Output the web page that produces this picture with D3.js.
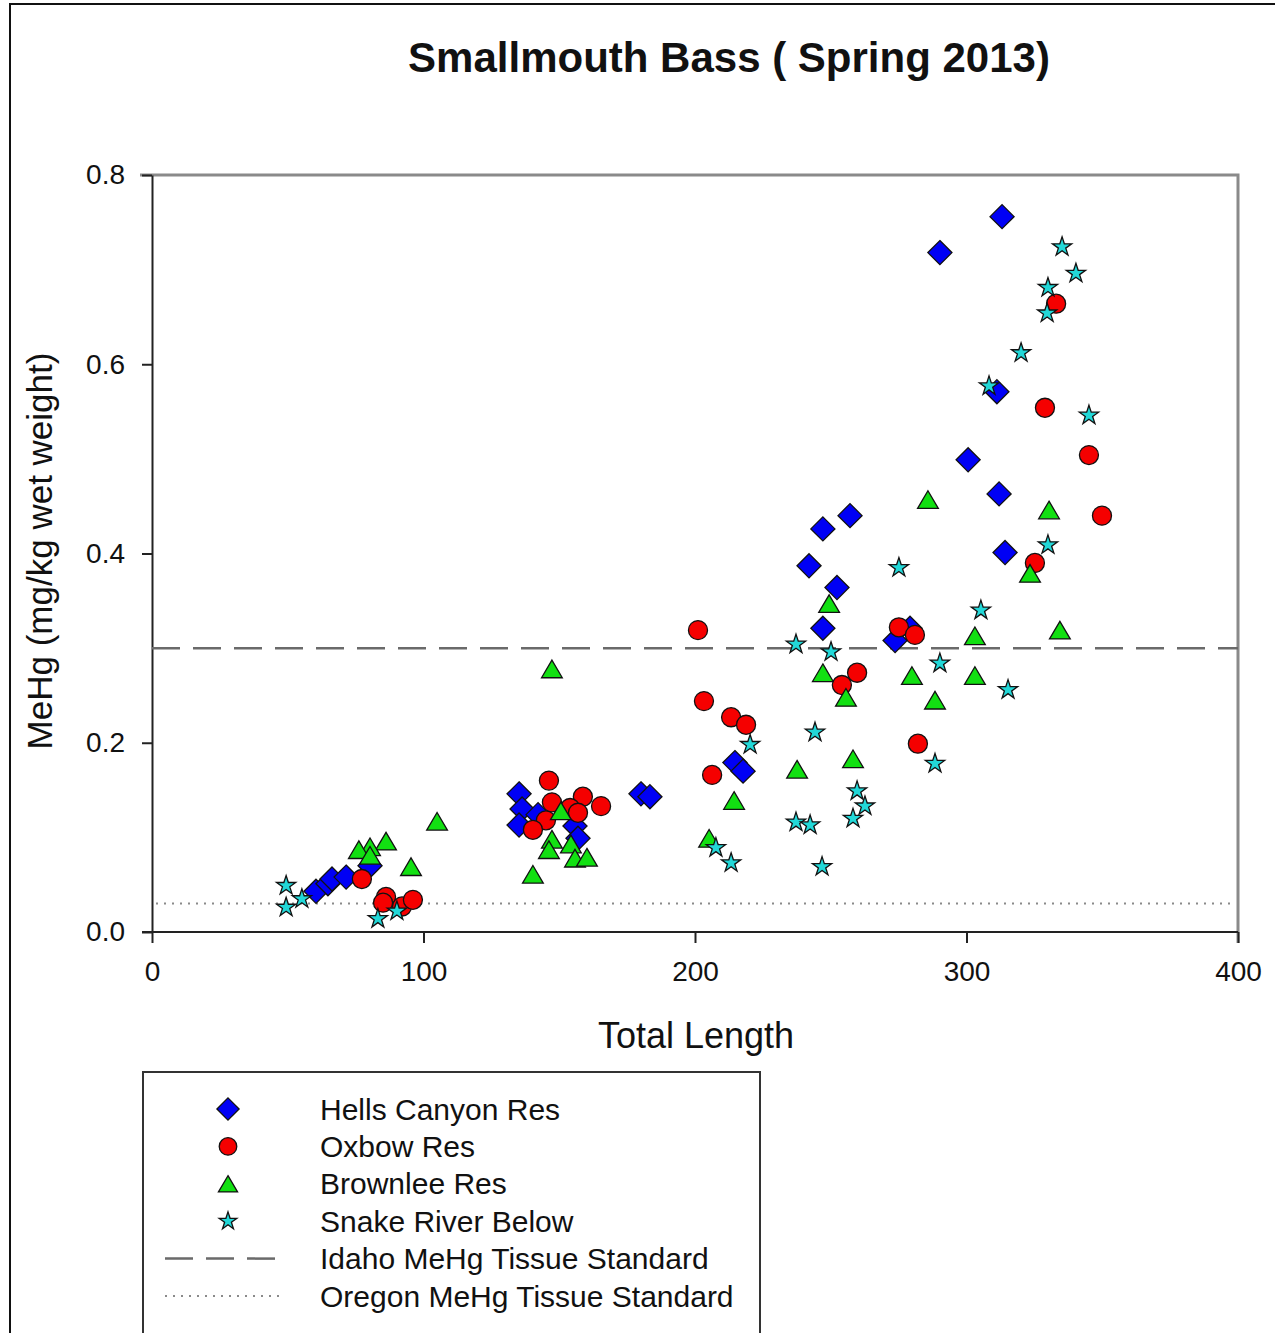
<!DOCTYPE html>
<html>
<head>
<meta charset="utf-8">
<script src="https://cdn.jsdelivr.net/npm/d3@7"></script>
<style>
  html, body { margin: 0; padding: 0; background: #fff; }
  svg { display: block; }
  text { font-family: "Liberation Sans", Arial, sans-serif; fill: #111; }
</style>
</head>
<body>
<svg id="chart" width="1275" height="1333"></svg>
<script>
// Total length (mm) and MeHg (mg/kg wet weight) per fish, by site
const hellsCanyon = [
  [313.1, 0.756], [290.2, 0.718], [311.2, 0.571], [300.6, 0.499], [312.0, 0.463],
  [314.2, 0.401], [257.1, 0.440], [247.1, 0.426], [242.0, 0.387], [252.3, 0.364],
  [247.1, 0.321], [273.7, 0.308], [279.2, 0.321], [214.7, 0.179], [217.7, 0.170],
  [180.1, 0.146], [183.4, 0.143], [135.2, 0.146], [136.3, 0.130], [135.2, 0.113],
  [142.2, 0.124], [155.8, 0.112], [156.9, 0.099], [60.4, 0.043], [64.8, 0.051],
  [66.3, 0.056], [71.5, 0.058], [80.3, 0.070]
];
const oxbow = [
  [333.0, 0.664], [328.9, 0.554], [345.1, 0.504], [349.9, 0.440], [325.2, 0.390],
  [275.1, 0.322], [281.0, 0.314], [282.1, 0.199], [259.7, 0.274], [254.1, 0.261],
  [201.1, 0.319], [203.3, 0.244], [213.3, 0.227], [218.8, 0.219], [206.3, 0.166],
  [146.2, 0.160], [147.3, 0.137], [158.7, 0.143], [165.4, 0.133], [154.0, 0.131],
  [156.9, 0.126], [145.1, 0.118], [140.3, 0.108], [77.3, 0.056], [86.2, 0.037],
  [85.1, 0.031], [92.1, 0.027], [96.1, 0.034]
];
const brownlee = [
  [285.8, 0.457], [330.4, 0.446], [323.4, 0.379], [249.4, 0.347], [303.1, 0.313],
  [334.4, 0.319], [247.1, 0.274], [279.9, 0.271], [303.1, 0.271], [255.6, 0.248],
  [288.4, 0.245], [237.6, 0.172], [258.2, 0.183], [214.4, 0.139], [205.2, 0.099],
  [147.3, 0.278], [150.6, 0.128], [147.3, 0.098], [146.2, 0.087], [154.3, 0.093],
  [155.8, 0.078], [160.2, 0.079], [140.3, 0.061], [105.0, 0.117], [86.2, 0.096],
  [80.3, 0.090], [76.2, 0.087], [80.3, 0.081], [95.4, 0.069]
];
const snakeBelow = [
  [335.2, 0.724], [340.3, 0.696], [330.0, 0.681], [329.7, 0.654], [320.1, 0.612],
  [308.3, 0.577], [345.1, 0.546], [330.0, 0.409], [275.1, 0.385], [305.3, 0.340],
  [237.2, 0.304], [250.1, 0.296], [290.2, 0.284], [315.3, 0.256], [244.2, 0.211],
  [220.3, 0.198], [288.4, 0.178], [259.7, 0.149], [262.6, 0.133], [258.2, 0.120],
  [237.2, 0.116], [242.4, 0.113], [246.8, 0.069], [207.7, 0.089], [213.3, 0.073],
  [49.4, 0.049], [49.4, 0.026], [55.2, 0.035], [83.2, 0.014], [90.2, 0.022]
];

// Tissue standards (mg/kg)
const idahoStandard = 0.3;
const oregonStandard = 0.03;

const xTicks = [0, 100, 200, 300, 400];
const yTicks = [0.0, 0.2, 0.4, 0.6, 0.8];

const seriesNames = ["Hells Canyon Res", "Oxbow Res", "Brownlee Res", "Snake River Below"];
const lineNames = ["Idaho MeHg Tissue Standard", "Oregon MeHg Tissue Standard"];

const svg = d3.select("#chart");

const plot = { left: 152, right: 1238, top: 175, bottom: 932 };
const x = d3.scaleLinear().domain([0, 400]).range([plot.left, plot.right]);
const y = d3.scaleLinear().domain([0, 0.8]).range([plot.bottom, plot.top]);

// outer frame
svg.append("line").attr("x1", 9).attr("x2", 1275).attr("y1", 4).attr("y2", 4)
  .attr("stroke", "#111").attr("stroke-width", 2);
svg.append("line").attr("x1", 10).attr("x2", 10).attr("y1", 4).attr("y2", 1333)
  .attr("stroke", "#111").attr("stroke-width", 2);

// title
svg.append("text").attr("x", 729).attr("y", 72).attr("text-anchor", "middle")
  .style("font-size", "42px").style("font-weight", "bold")
  .text("Smallmouth Bass ( Spring 2013)");

// top and right plot edges
svg.append("path")
  .attr("d", `M${plot.left - 12},${plot.top} H${plot.right} V${plot.bottom + 11}`)
  .attr("fill", "none").attr("stroke", "#8a8a8a").attr("stroke-width", 3);

// axes
const xAxis = d3.axisBottom(x).tickValues(xTicks).tickFormat(d3.format("d"))
  .tickSize(11).tickSizeOuter(0).tickPadding(18);
const yAxis = d3.axisLeft(y).tickValues(yTicks).tickFormat(d3.format(".1f"))
  .tickSize(10).tickSizeOuter(0).tickPadding(17);

const gx = svg.append("g").attr("transform", `translate(0,${plot.bottom})`).call(xAxis);
const gy = svg.append("g").attr("transform", `translate(${plot.left},0)`).call(yAxis);
[gx, gy].forEach(g => {
  g.select(".domain").attr("stroke", "#222").attr("stroke-width", 2);
  g.selectAll(".tick line").attr("stroke", "#222").attr("stroke-width", 2);
  g.selectAll(".tick text").style("font-size", "28px")
    .style("font-family", "'Liberation Sans', Arial, sans-serif").attr("fill", "#111");
});
gx.select(".domain").attr("d", `M${plot.left - 10},0H${plot.right}`);

// axis titles
svg.append("text").attr("x", 696).attr("y", 1048).attr("text-anchor", "middle")
  .style("font-size", "36px").text("Total Length");
svg.append("text").attr("transform", "translate(52,551) rotate(-90)")
  .attr("text-anchor", "middle").style("font-size", "35px")
  .text("MeHg (mg/kg wet weight)");

// reference lines
svg.append("line").attr("x1", plot.left).attr("x2", plot.right)
  .attr("y1", y(idahoStandard)).attr("y2", y(idahoStandard))
  .attr("stroke", "#6a6a6a").attr("stroke-width", 2.5).attr("stroke-dasharray", "28,13");
svg.append("line").attr("x1", plot.left + 4).attr("x2", plot.right - 4)
  .attr("y1", y(oregonStandard)).attr("y2", y(oregonStandard))
  .attr("stroke", "#8a8a8a").attr("stroke-width", 2).attr("stroke-dasharray", "2,6");

// marker shapes
const diamondType = {
  draw(ctx, size) {
    const r = Math.sqrt(size / 2);
    ctx.moveTo(0, -r); ctx.lineTo(r, 0); ctx.lineTo(0, r); ctx.lineTo(-r, 0); ctx.closePath();
  }
};
const triangleType = {
  draw(ctx, size) {
    const w = Math.sqrt(size);
    const h = w * 0.85;
    ctx.moveTo(0, -h / 2); ctx.lineTo(w / 2, h / 2); ctx.lineTo(-w / 2, h / 2); ctx.closePath();
  }
};
const styles = [
  { data: hellsCanyon, type: diamondType, size: 290, fill: "#0000f5" },
  { data: oxbow, type: d3.symbolCircle, size: 285, fill: "#f50000" },
  { data: brownlee, type: triangleType, size: 430, fill: "#12e012" },
  { data: snakeBelow, type: d3.symbolStar, size: 115, fill: "#22d8d8" }
];

styles.forEach(s => {
  const sym = d3.symbol().type(s.type).size(s.size);
  svg.append("g").selectAll("path").data(s.data).join("path")
    .attr("transform", d => `translate(${x(d[0])},${y(d[1])})`)
    .attr("d", sym)
    .attr("fill", s.fill).attr("stroke", "#111").attr("stroke-width", 1.3);
});

// legend
const legend = svg.append("g");
legend.append("rect").attr("x", 143).attr("y", 1072).attr("width", 617).attr("height", 300)
  .attr("fill", "none").attr("stroke", "#333").attr("stroke-width", 2);
const rowY = d3.scaleLinear().domain([0, 5]).range([1109, 1296]);
styles.forEach((s, i) => {
  const sym = d3.symbol().type(s.type).size(s.size * 0.85);
  legend.append("path").attr("transform", `translate(228,${rowY(i)})`).attr("d", sym)
    .attr("fill", s.fill).attr("stroke", "#111").attr("stroke-width", 1.3);
  legend.append("text").attr("x", 320).attr("y", rowY(i)).attr("dy", "0.35em")
    .style("font-size", "30px").text(seriesNames[i]);
});
legend.append("line").attr("x1", 165).attr("x2", 280).attr("y1", rowY(4)).attr("y2", rowY(4))
  .attr("stroke", "#6a6a6a").attr("stroke-width", 2.5).attr("stroke-dasharray", "28,13");
legend.append("line").attr("x1", 165).attr("x2", 284).attr("y1", rowY(5)).attr("y2", rowY(5))
  .attr("stroke", "#8a8a8a").attr("stroke-width", 2).attr("stroke-dasharray", "2,6");
lineNames.forEach((n, i) => {
  legend.append("text").attr("x", 320).attr("y", rowY(4 + i)).attr("dy", "0.35em")
    .style("font-size", "30px").text(n);
});
</script>
</body>
</html>
